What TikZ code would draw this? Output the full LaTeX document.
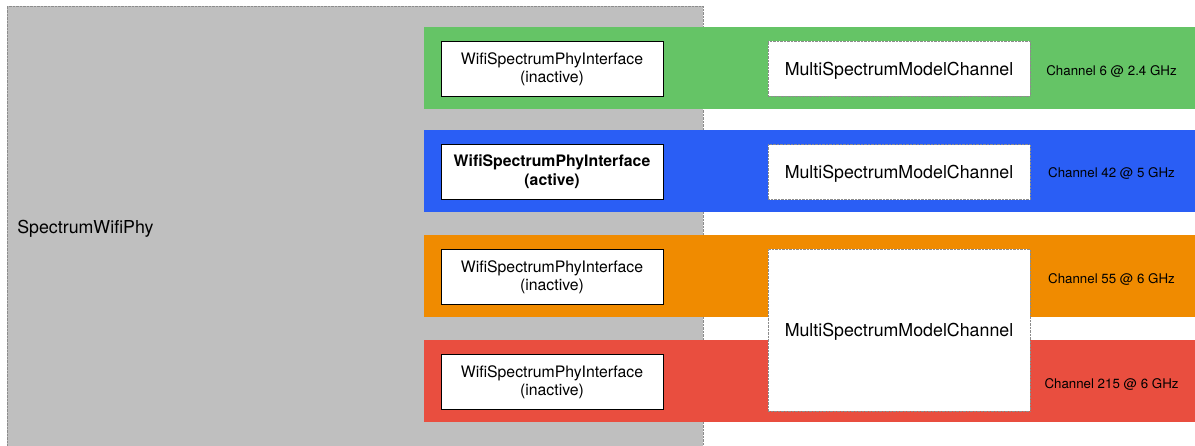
\documentclass[tikz,border=0pt]{standalone}
\usepackage{fontspec}
\setmainfont{TeX Gyre Heros}
\usetikzlibrary{positioning}
\definecolor{phygray}{RGB}{191,191,191}
\definecolor{bandgreen}{RGB}{101,196,102}
\definecolor{bandblue}{RGB}{42,94,245}
\definecolor{bandorange}{RGB}{240,139,0}
\definecolor{bandred}{RGB}{233,78,63}

\begin{document}
\begin{tikzpicture}[x=1pt, y=-1pt,
        band/.style={rectangle, inner sep=0pt,
              minimum width=771pt, minimum height=82pt},
        iface/.style={draw=black, fill=white, line width=0.8pt, inner sep=0pt,
              minimum width=222pt, minimum height=55pt, align=center,
              text depth=2pt, font=\fontsize{15.8}{18.8}\selectfont},
        mchan/.style={draw=black!45, densely dotted, fill=white, inner sep=0pt,
              minimum width=262pt, minimum height=55pt, text depth=0pt,
              font=\fontsize{17.8}{21}\selectfont},
        chlbl/.style={font=\fontsize{13.3}{15}\selectfont}]
        \useasboundingbox (0,0) rectangle (1195,445);
        \clip (0,0) rectangle (1195,445);
        % the phy
        \node[draw=black!45, densely dotted, fill=phygray, inner sep=0pt,
              minimum width=696pt, minimum height=444pt]
            (phy) at (355,228) {};
        \node[anchor=west, font=\fontsize{17.8}{21}\selectfont]
            (phylbl) at ([xshift=7pt,yshift=-1pt]phy.west) {SpectrumWifiPhy};
        % channel bands
        \node[band, fill=bandgreen]  (b1) at (809.5,68) {};
        \node[band, fill=bandblue]   (b2) at (809.5,171) {};
        \node[band, fill=bandorange] (b3) at (809.5,276) {};
        \node[band, fill=bandred]    (b4) at (809.5,381) {};
        % interfaces
        \node[iface] (if1) at (552,68.5)  {WifiSpectrumPhyInterface\\(inactive)};
        \node[iface, font=\fontsize{15.8}{18.8}\selectfont\bfseries]
            (if2) at (552,171.5) {WifiSpectrumPhyInterface\\(active)};
        \node[iface] (if3) at (552,276.5) {WifiSpectrumPhyInterface\\(inactive)};
        \node[iface] (if4) at (552,381.5) {WifiSpectrumPhyInterface\\(inactive)};
        % channels
        \node[mchan] (m1) at (899,68.5) {MultiSpectrumModelChannel};
        \node[mchan] (m2) at (899,172)  {MultiSpectrumModelChannel};
        \node[mchan, minimum height=162pt]
            (m3) at (899,330) {MultiSpectrumModelChannel};
        \node[chlbl] (c1) at (1111.5,71.5)  {Channel 6 @ 2.4 GHz};
        \node[chlbl] (c2) at (1111.5,173.5) {Channel 42 @ 5 GHz};
        \node[chlbl] (c3) at (1111.5,279.5) {Channel 55 @ 6 GHz};
        \node[chlbl] (c4) at (1111.5,384.5) {Channel 215 @ 6 GHz};
    \end{tikzpicture}
\end{document}
